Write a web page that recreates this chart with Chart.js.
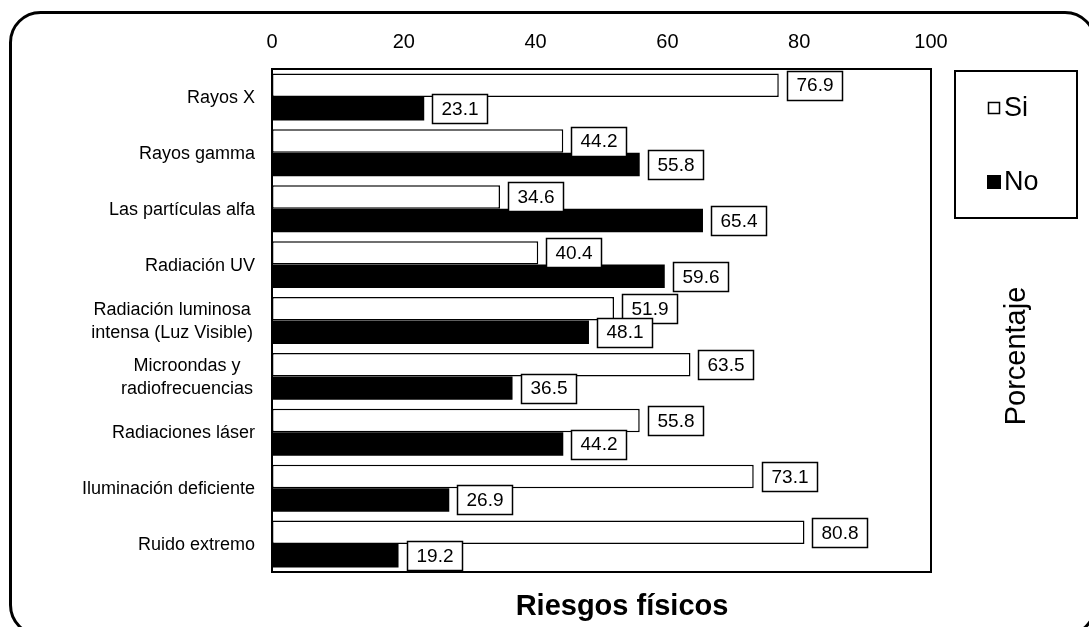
<!DOCTYPE html>
<html>
<head>
<meta charset="utf-8">
<script src="https://cdn.jsdelivr.net/npm/chart.js@4.4.1/dist/chart.umd.min.js"></script>
<style>
  html, body { margin: 0; padding: 0; background: #fff; }
  canvas { display: block; }
</style>
</head>
<body>
<canvas id="c" width="1089" height="627"></canvas>
<script>
// Physical risk categories (multi-line labels are arrays of lines)
const categories = [
  ["Rayos X"],
  ["Rayos gamma"],
  ["Las partículas alfa"],
  ["Radiación UV"],
  ["Radiación luminosa", "intensa (Luz Visible)"],
  ["Microondas y", "radiofrecuencias"],
  ["Radiaciones láser"],
  ["Iluminación deficiente"],
  ["Ruido extremo"]
];
const siValues = [76.9, 44.2, 34.6, 40.4, 51.9, 63.5, 55.8, 73.1, 80.8];
const noValues = [23.1, 55.8, 65.4, 59.6, 48.1, 36.5, 44.2, 26.9, 19.2];
const seriesNames = ["Si", "No"];
const xTickValues = [0, 20, 40, 60, 80, 100];
const axisTitle = "Porcentaje";
const chartTitle = "Riesgos físicos";

const FONT = '"Liberation Sans", Arial, Helvetica, sans-serif';

const decorations = {
  id: 'decorations',
  beforeDraw(chart) {
    const ctx = chart.ctx;
    ctx.save();
    ctx.fillStyle = '#fff';
    ctx.fillRect(0, 0, chart.width, chart.height);
    // rounded outer frame (runs past the right and bottom edges)
    ctx.strokeStyle = '#000';
    ctx.lineWidth = 3;
    ctx.beginPath();
    ctx.roundRect(10.5, 12.5, 1084.5, 622.5, 30);
    ctx.stroke();
    ctx.restore();
  },
  afterDatasetsDraw(chart) {
    const ctx = chart.ctx;
    const a = chart.chartArea;
    ctx.save();
    // plot frame
    ctx.strokeStyle = '#000';
    ctx.lineWidth = 2;
    ctx.strokeRect(a.left, a.top, a.right - a.left, a.bottom - a.top);

    // value boxes next to each bar end
    ctx.font = '19px ' + FONT;
    ctx.textAlign = 'center';
    ctx.textBaseline = 'middle';
    const n = chart.data.labels.length;
    for (let i = 0; i < n; i++) {
      chart.data.datasets.forEach((ds, d) => {
        const el = chart.getDatasetMeta(d).data[i];
        const txt = ds.data[i].toFixed(1);
        const w = Math.round(ctx.measureText(txt).width + 18);
        const h = 29;
        const x0 = Math.round(el.x + 8) + 0.5;
        const y0 = Math.round(el.y - h / 2) + 0.5;
        ctx.fillStyle = '#fff';
        ctx.fillRect(x0, y0, w, h);
        ctx.lineWidth = 1.5;
        ctx.strokeStyle = '#000';
        ctx.strokeRect(x0, y0, w, h);
        ctx.fillStyle = '#000';
        ctx.fillText(txt, x0 + w / 2, el.y + 1);
      });
    }
    ctx.restore();
  },
  afterDraw(chart) {
    const ctx = chart.ctx;
    const a = chart.chartArea;
    const yScale = chart.scales.y;
    ctx.save();
    ctx.fillStyle = '#000';

    // category labels: block right-aligned, lines centred within the block
    ctx.font = '18px ' + FONT;
    ctx.textBaseline = 'middle';
    ctx.textAlign = 'center';
    const lh = 23;
    chart.data.labels.forEach((lines, i) => {
      const yc = yScale.getPixelForTick(i);
      const maxW = Math.max(...lines.map(l => ctx.measureText(l).width));
      const right = lines.length > 1 ? a.left - 19 : a.left - 17;
      const cx = right - maxW / 2;
      const y0 = yc - (lines.length - 1) * lh / 2;
      lines.forEach((l, k) => ctx.fillText(l, cx, y0 + k * lh + 1));
    });

    // legend
    ctx.strokeStyle = '#000';
    ctx.lineWidth = 2;
    ctx.strokeRect(955, 71, 122, 147);
    const legendRows = [108, 182];
    ctx.font = '27px ' + FONT;
    ctx.textAlign = 'left';
    chart.data.datasets.forEach((ds, d) => {
      const yc = legendRows[d];
      if (ds.backgroundColor === '#000') {
        ctx.fillStyle = '#000';
        ctx.fillRect(987, yc - 7, 14, 14);
      } else {
        ctx.fillStyle = '#fff';
        ctx.fillRect(988, yc - 6, 12, 12);
        ctx.lineWidth = 1.5;
        ctx.strokeRect(988.5, yc - 5.5, 11, 11);
      }
      ctx.fillStyle = '#000';
      ctx.fillText(ds.label, 1004, yc + 1);
    });

    // value axis title, rotated
    ctx.save();
    ctx.translate(1017, 356);
    ctx.rotate(-Math.PI / 2);
    ctx.font = '29px ' + FONT;
    ctx.textAlign = 'center';
    ctx.textBaseline = 'middle';
    ctx.fillText(axisTitle, 0, 0);
    ctx.restore();

    // chart title below the plot
    ctx.font = 'bold 29px ' + FONT;
    ctx.textAlign = 'center';
    ctx.textBaseline = 'middle';
    ctx.fillText(chartTitle, 622, 607);
    ctx.restore();
  }
};

new Chart(document.getElementById('c'), {
  type: 'bar',
  data: {
    labels: categories,
    datasets: [
      {
        label: seriesNames[0],
        data: siValues,
        backgroundColor: '#fff',
        borderColor: '#000',
        borderWidth: 1.5,
        borderSkipped: false
      },
      {
        label: seriesNames[1],
        data: noValues,
        backgroundColor: '#000',
        borderColor: '#000',
        borderWidth: 0
      }
    ]
  },
  options: {
    indexAxis: 'y',
    responsive: false,
    animation: false,
    devicePixelRatio: 1,
    barPercentage: 1,
    categoryPercentage: 0.84,
    layout: { padding: { left: 0, top: 0, right: 158, bottom: 55 } },
    plugins: {
      legend: { display: false },
      tooltip: { enabled: false }
    },
    scales: {
      x: {
        position: 'top',
        min: 0,
        max: 100,
        afterFit(scale) { scale.height = 69; },
        afterBuildTicks(scale) { scale.ticks = xTickValues.map(v => ({ value: v })); },
        grid: { display: false, drawTicks: false },
        border: { display: true, color: '#000', width: 2 },
        ticks: {
          padding: 15,
          color: '#000',
          font: { family: FONT, size: 20 }
        }
      },
      y: {
        afterFit(scale) { scale.width = 272; },
        grid: { display: false, drawTicks: false },
        border: { display: true, color: '#000', width: 2 },
        ticks: { display: false }
      }
    }
  },
  plugins: [decorations]
});
</script>
</body>
</html>
